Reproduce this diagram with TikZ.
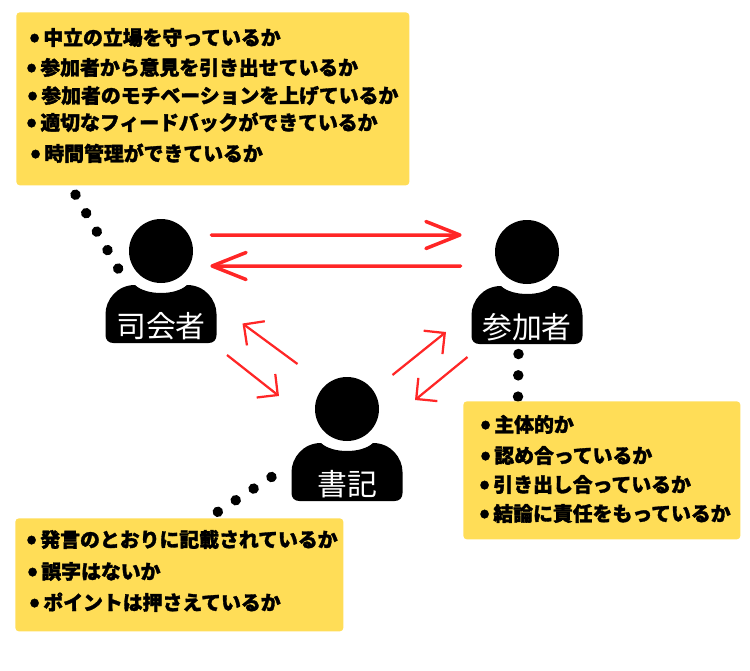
\documentclass[tikz,border=0pt]{standalone}
\usepackage{fontspec}
\newfontfamily\jpfont{Noto Sans CJK JP}[BoldFeatures={FakeBold=1.6}]
\usetikzlibrary{positioning,backgrounds,arrows.meta}
\definecolor{note}{RGB}{255,221,87}
\definecolor{flow}{RGB}{255,38,38}
\newcommand{\bodyshape}{
    (-0.52,-0.68) .. controls (-0.3,-0.893) and (0.3,-0.893) .. (0.52,-0.68)
    .. controls (0.88,-0.68) and (1.11,-0.98) .. (1.11,-1.26)
    -- (1.11,-1.68) .. controls (1.11,-1.78) and (1.05,-1.84) .. (0.95,-1.84)
    -- (-0.95,-1.84) .. controls (-1.05,-1.84) and (-1.11,-1.78) .. (-1.11,-1.68)
    -- (-1.11,-1.26) .. controls (-1.11,-0.98) and (-0.88,-0.68) .. (-0.52,-0.68)
    -- cycle
}
\newcommand{\dotmark}{\llap{\raisebox{-0.02cm}{\fontsize{15}{15}\selectfont\textbullet}\hspace{0.07cm}}}
\tikzset{
    % Person
    head/.style={
        circle,
        fill=black,
        minimum size=1.28cm,
        inner sep=0pt,
    },
    body/.style={
        fill=black,
    },
    role/.style={
        text=white,
        font=\jpfont\fontsize{17}{17}\selectfont,
        inner sep=0pt,
    },
    % Checklist
    notebox/.style={
        fill=note,
        rounded corners=0.07cm,
        anchor=north west,
        inner sep=0pt,
    },
    noteline/.style={
        anchor=west,
        inner sep=0pt,
        text height=0.40cm,
        text depth=0.08cm,
        font=\jpfont\bfseries\fontsize{11.3}{12}\selectfont,
    },
    % Connectors
    bigflow/.style={
        flow,
        line width=0.07cm,
        line cap=round,
        -{Straight Barb[length=0.68cm,width=0.54cm,round]},
    },
    smallflow/.style={
        flow,
        line width=0.045cm,
        -{Straight Barb[length=0.3cm,width=0.6cm]},
    },
    dotline/.style={
        black,
        line width=0.21cm,
        line cap=round,
        dash pattern=on 0.01pt off 0.426cm,
    },
}
\begin{document}
\begin{tikzpicture}
\useasboundingbox (0,0) rectangle (15,-13.42);
    % Host
    \begin{scope}[shift={(3.22,-5.02)}]
        \node[head] (host) at (0,0) {};
        \fill[body] \bodyshape;
        \node[role] (hostLabel) at (0,-1.5) {司会者};
    \end{scope}
    % Member
    \begin{scope}[shift={(10.54,-5.04)}]
        \node[head] (member) at (0,0) {};
        \fill[body] \bodyshape;
        \node[role] (memberLabel) at (0,-1.5) {参加者};
    \end{scope}
    % Writer
    \begin{scope}[shift={(6.94,-8.18)}]
        \node[head] (writer) at (0,0) {};
        \fill[body] \bodyshape;
        \node[role] (writerLabel) at (0,-1.5) {書記};
    \end{scope}

    % Checklist boxes
    \node[notebox, minimum width=7.86cm, minimum height=3.46cm] (boxHost) at (0.32,-0.24) {};
    \node[notebox, minimum width=5.54cm, minimum height=2.76cm] (boxMember) at (9.26,-8.02) {};
    \node[notebox, minimum width=6.56cm, minimum height=2.26cm] (boxWriter) at (0.30,-10.36) {};

    \node[noteline] (lineH1) at (0.86,-0.74) {\dotmark 中立の立場を守っているか};
    \node[noteline] (lineH2) at (0.80,-1.34) {\dotmark 参加者から意見を引き出せているか};
    \node[noteline] (lineH3) at (0.82,-1.90) {\dotmark 参加者のモチベーションを上げているか};
    \node[noteline] (lineH4) at (0.80,-2.44) {\dotmark 適切なフィードバックができているか};
    \node[noteline] (lineH5) at (0.88,-3.06) {\dotmark 時間管理ができているか};

    \node[noteline] (lineM1) at (9.88,-8.48) {\dotmark 主体的か};
    \node[noteline] (lineM2) at (9.88,-9.10) {\dotmark 認め合っているか};
    \node[noteline] (lineM3) at (9.86,-9.68) {\dotmark 引き出し合っているか};
    \node[noteline] (lineM4) at (9.86,-10.26) {\dotmark 結論に責任をもっているか};

    \node[noteline] (lineW1) at (0.80,-10.78) {\dotmark 発言のとおりに記載されているか};
    \node[noteline] (lineW2) at (0.82,-11.42) {\dotmark 誤字はないか};
    \node[noteline] (lineW3) at (0.86,-12.04) {\dotmark ポイントは押さえているか};

    % Dotted links
    \begin{scope}[on background layer]
        \draw[dotline] ([shift={(1.19,-0.18)}]boxHost.south west) -- ([shift={(-0.84,-0.38)}]host.center);
        \draw[dotline] ([shift={(-0.17,-2.04)}]member.center) -- ([shift={(1.10,0.06)}]boxMember.north west);
        \draw[dotline] ([shift={(-1.51,-1.36)}]writer.center) -- ([shift={(4.02,0.10)}]boxWriter.north west);
    \end{scope}

    % Arrows
    \draw[bigflow] ([shift={(0.36,0.32)}]host.east) -- ([shift={(-0.66,0.34)}]member.west);
    \draw[bigflow] ([shift={(-0.68,-0.28)}]member.west) -- ([shift={(0.34,-0.30)}]host.east);
    \draw[smallflow] ([shift={(-0.99,0.90)}]writer.center) -- ([shift={(1.63,-1.45)}]host.center);
    \draw[smallflow] ([shift={(1.32,-2.08)}]host.center) -- ([shift={(-1.36,0.26)}]writer.center);
    \draw[smallflow] ([shift={(0.91,0.68)}]writer.center) -- ([shift={(-1.62,-1.60)}]member.center);
    \draw[smallflow] ([shift={(-1.19,-2.10)}]member.center) -- ([shift={(1.36,0.18)}]writer.center);
\end{tikzpicture}
\end{document}
